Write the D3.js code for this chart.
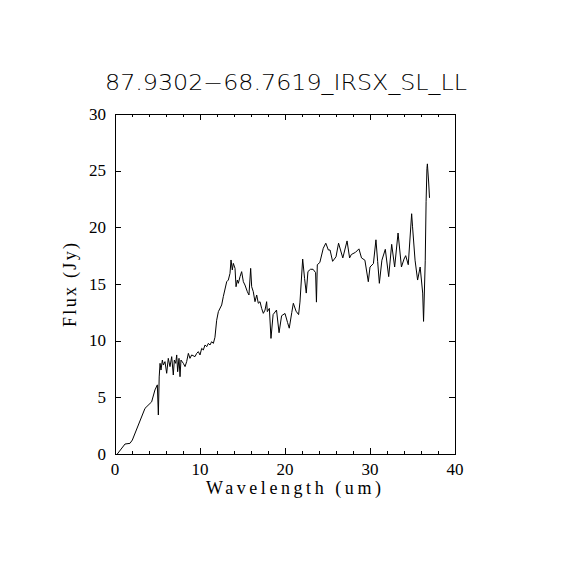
<!DOCTYPE html>
<html>
<head>
<meta charset="utf-8">
<script src="https://cdn.jsdelivr.net/npm/d3@7"></script>
<style>
  body { margin: 0; background: #fff; }
  text { fill: #000; }
</style>
</head>
<body>
<div id="output"></div>
<script>
var titleText = "87.9302\u221268.7619_IRSX_SL_LL";
var xLabel = "Wavelength (um)";
var yLabel = "Flux (Jy)";

var xMajor = [0, 10, 20, 30, 40];
var xMinor = [2, 4, 6, 8, 12, 14, 16, 18, 22, 24, 26, 28, 32, 34, 36, 38];
var yMajor = [0, 5, 10, 15, 20, 25, 30];

var wavelength = [0.27, 1.18, 1.76, 2.04, 3.53, 4.31, 4.7, 4.98, 5.1, 5.2,
    5.3, 5.41, 5.57, 5.69, 5.88, 6.08, 6.27, 6.47, 6.67, 6.86,
    6.98, 7.14, 7.26, 7.37, 7.53, 7.65, 7.76, 8.04, 8.24, 8.43,
    8.63, 8.82, 9.02, 9.41, 9.61, 9.8, 10.0, 10.2, 10.39, 10.59,
    10.79, 10.98, 11.18, 11.37, 11.57, 11.76, 11.96, 12.16, 12.55, 12.74,
    13.14, 13.33, 13.53, 13.65, 13.8, 13.92, 14.12, 14.24, 14.39, 14.51,
    14.71, 14.9, 15.1, 15.29, 15.57, 15.76, 15.96, 16.08, 16.27, 16.47,
    16.67, 16.86, 17.06, 17.25, 17.45, 17.65, 17.84, 17.92, 18.16, 18.35,
    18.6, 19.0, 19.3, 19.6, 20.0, 20.3, 20.5, 20.8, 20.98, 21.3,
    21.6, 21.76, 22.08, 22.3, 22.5, 22.7, 23.0, 23.3, 23.6, 23.7,
    23.8, 24.1, 24.5, 24.8, 25.1, 25.3, 25.6, 26.0, 26.3, 26.8,
    27.3, 27.6, 27.8, 28.3, 28.7, 29.0, 29.4, 29.8, 30.0, 30.4,
    30.7, 30.9, 31.1, 31.4, 31.8, 32.2, 32.55, 32.9, 33.3, 33.7,
    34.0, 34.2, 34.5, 34.9, 35.0, 35.3, 35.6, 35.9, 36.2, 36.3,
    36.5, 36.6, 36.7, 36.75, 36.9, 37.0];

var flux = [0.0, 0.88, 0.94, 1.23, 4.03, 4.6, 5.65, 6.1, 3.44, 6.8,
    8.0, 7.41, 8.29, 7.85, 8.15, 7.12, 8.44, 7.71, 8.59, 6.97,
    8.29, 8.0, 8.74, 7.26, 8.44, 6.82, 8.29, 8.0, 7.71, 8.15,
    8.88, 8.44, 8.74, 8.59, 8.88, 9.03, 8.74, 9.32, 9.18, 9.62,
    9.47, 9.76, 9.62, 9.91, 9.76, 10.3, 11.8, 12.56, 13.15, 13.88,
    15.2, 15.35, 15.94, 17.12, 16.24, 16.82, 16.38, 14.76, 15.35, 15.06,
    15.65, 16.09, 15.2, 14.91, 14.32, 14.03, 16.38, 14.76, 14.32, 13.44,
    14.03, 13.3, 13.44, 12.85, 12.41, 12.7, 13.44, 12.56, 12.85, 10.2,
    12.3, 12.7, 10.7, 12.2, 12.4, 11.6, 11.1, 12.5, 13.3, 12.6,
    12.3, 13.4, 17.2, 15.5, 14.2, 16.1, 16.3, 16.3, 16.0, 13.4,
    16.7, 16.9, 18.15, 18.6, 18.0, 18.0, 17.0, 17.4, 18.6, 17.3,
    18.8, 17.3, 17.6, 17.8, 18.1, 17.3, 17.1, 15.2, 16.5, 16.8,
    18.9, 17.0, 15.06, 17.1, 18.06, 15.65, 18.5, 16.5, 19.5, 16.5,
    17.2, 17.5, 16.7, 21.2, 20.1, 17.1, 15.35, 16.5, 14.2, 11.7,
    17.1, 22.3, 25.2, 25.6, 24.0, 22.6];

var w = 570, h = 570;
var margin = {top: 114, right: 115, bottom: 116, left: 115};
var wChart = w - margin.left - margin.right;
var hChart = h - margin.top - margin.bottom;

var x = d3.scaleLinear().domain([0, 40]).range([0, wChart]);
var y = d3.scaleLinear().domain([0, 30]).range([hChart, 0]);

var svg = d3.select("#output").append("svg")
    .attr("width", w)
    .attr("height", h);

var chart = svg.append("g")
    .attr("transform", "translate(" + margin.left + "," + margin.top + ")");

// frame
chart.append("rect")
    .attr("x", 0.5).attr("y", 0.5)
    .attr("width", wChart).attr("height", hChart)
    .attr("fill", "none").attr("stroke", "#000").attr("stroke-width", 1)
    .attr("shape-rendering", "crispEdges");

var tickG = chart.append("g")
    .attr("stroke", "#000").attr("stroke-width", 1)
    .attr("shape-rendering", "crispEdges");

// bottom & top ticks
xMajor.concat(xMinor).forEach(function (v) {
    var len = xMajor.indexOf(v) >= 0 ? 6 : 3;
    var px = Math.round(x(v)) + 0.5;
    tickG.append("line").attr("x1", px).attr("x2", px)
        .attr("y1", hChart).attr("y2", hChart - len);
    tickG.append("line").attr("x1", px).attr("x2", px)
        .attr("y1", 0).attr("y2", len);
});

// left & right ticks
yMajor.forEach(function (v) {
    var py = Math.round(y(v)) + 0.5;
    tickG.append("line").attr("x1", 0).attr("x2", 6)
        .attr("y1", py).attr("y2", py);
    tickG.append("line").attr("x1", wChart).attr("x2", wChart - 6)
        .attr("y1", py).attr("y2", py);
});

// tick labels
chart.selectAll(".xlab")
    .data(xMajor)
    .enter()
    .append("text")
    .attr("class", "xlab")
    .attr("x", function (d) { return x(d); })
    .attr("y", hChart + 21)
    .attr("text-anchor", "middle")
    .attr("font-family", "Liberation Serif")
    .attr("font-size", 17)
    .text(function (d) { return d; });

chart.selectAll(".ylab")
    .data(yMajor)
    .enter()
    .append("text")
    .attr("class", "ylab")
    .attr("x", -9)
    .attr("y", function (d) { return y(d) + 5.5; })
    .attr("text-anchor", "end")
    .attr("font-family", "Liberation Serif")
    .attr("font-size", 17)
    .text(function (d) { return d; });

// spectrum
var line = d3.line()
    .x(function (d) { return x(d[0]); })
    .y(function (d) { return y(d[1]); });

chart.append("path")
    .datum(d3.zip(wavelength, flux))
    .attr("d", line)
    .attr("fill", "none")
    .attr("stroke", "#000")
    .attr("stroke-width", 1);

// axis titles
svg.append("text")
    .attr("x", 293.5)
    .attr("y", 494)
    .attr("text-anchor", "middle")
    .attr("font-family", "Liberation Serif")
    .attr("font-size", 18)
    .attr("textLength", 175)
    .attr("lengthAdjust", "spacing")
    .text(xLabel);

svg.append("text")
    .attr("transform", "translate(76,285) rotate(-90)")
    .attr("text-anchor", "middle")
    .attr("font-family", "Liberation Serif")
    .attr("font-size", 18)
    .attr("textLength", 84)
    .attr("lengthAdjust", "spacing")
    .text(yLabel);

// title
svg.append("text")
    .attr("x", 286)
    .attr("y", 90)
    .attr("text-anchor", "middle")
    .attr("font-family", "DejaVu Sans")
    .attr("font-weight", 200)
    .attr("font-size", 21)
    .attr("textLength", 362)
    .attr("lengthAdjust", "spacingAndGlyphs")
    .text(titleText);
</script>
</body>
</html>
